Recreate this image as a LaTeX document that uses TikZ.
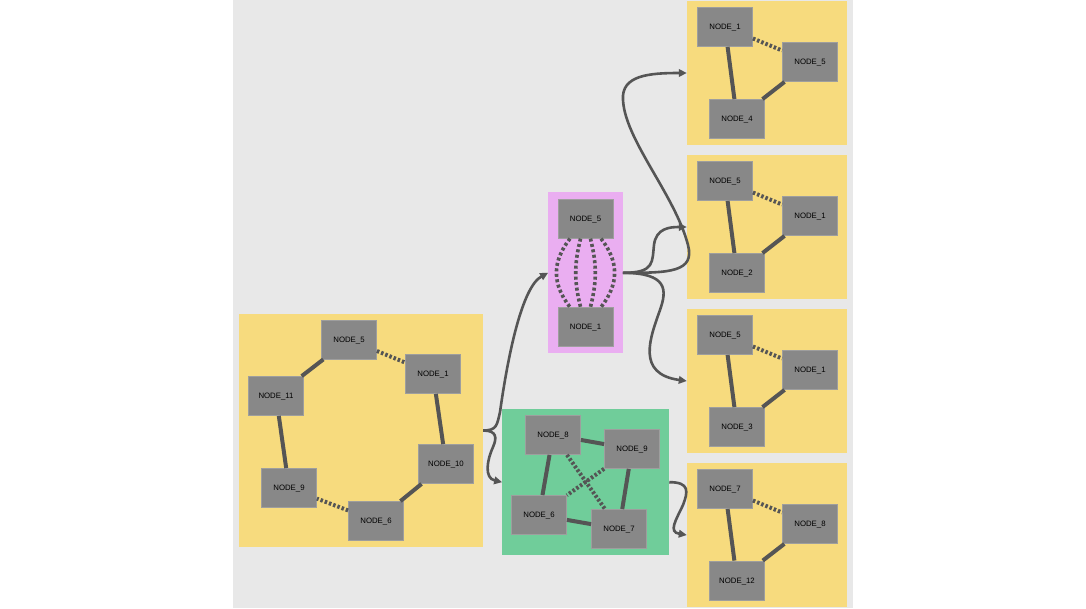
\documentclass[tikz,border=0pt]{standalone}
\usepackage{fontspec}
\setmainfont{Liberation Sans}
\usetikzlibrary{arrows.meta}
\definecolor{bgc}{HTML}{E8E8E8}
\definecolor{yel}{HTML}{F7DB7E}
\definecolor{pnk}{HTML}{EAAEF1}
\definecolor{grn}{HTML}{70CD9A}
\definecolor{nodegray}{HTML}{888888}
\definecolor{nodeborder}{HTML}{9E9E9E}
\definecolor{edgec}{HTML}{555555}
\begin{document}
\begin{tikzpicture}[x=1pt,y=-1pt,
  gnode/.style={fill=nodegray, draw=nodeborder, line width=0.8pt, minimum width=55pt, minimum height=39pt, inner sep=0pt, text depth=0pt, font=\fontsize{7.8}{9}\selectfont},
  clusterbox/.style={inner sep=0pt, draw=none},
  soled/.style={draw=edgec, line width=4pt},
  dashed/.style={draw=edgec, line width=4pt, dash pattern=on 2.5pt off 2pt},
  pdash/.style={draw=edgec, line width=3.6pt, dash pattern=on 3pt off 2.5pt},
  arr/.style={draw=edgec, line width=2.6pt, -{Triangle[length=8pt,width=7.5pt]}}]
\useasboundingbox (0,0) rectangle (1086,608);
\fill[bgc] (233,0) rectangle (853,608);

% clusters
\node[clusterbox, fill=yel, minimum width=244pt, minimum height=233pt] (L) at (361,430.5) {};
\node[clusterbox, fill=pnk, minimum width=74.4pt, minimum height=161pt] (P) at (585.5,272.8) {};
\node[clusterbox, fill=grn, minimum width=166.7pt, minimum height=145.7pt] (G) at (585.7,482.2) {};
\node[clusterbox, fill=yel, minimum width=160pt, minimum height=144pt] (R1) at (767,73) {};
\node[clusterbox, fill=yel, minimum width=160pt, minimum height=144pt] (R2) at (767,227) {};
\node[clusterbox, fill=yel, minimum width=160pt, minimum height=144pt] (R3) at (767,381) {};
\node[clusterbox, fill=yel, minimum width=160pt, minimum height=144pt] (R4) at (767,535) {};

% left cluster nodes
\node[gnode] (l5) at (349,339.5) {NODE\_5};
\node[gnode] (l1) at (433,374) {NODE\_1};
\node[gnode] (l11) at (276,396) {NODE\_11};
\node[gnode] (l10) at (446,464) {NODE\_10};
\node[gnode] (l9) at (289,488) {NODE\_9};
\node[gnode] (l6) at (376,521) {NODE\_6};
\draw[dashed] (l5) -- (l1);
\draw[soled] (l1) -- (l10);
\draw[soled] (l10) -- (l6);
\draw[dashed] (l6) -- (l9);
\draw[soled] (l9) -- (l11);
\draw[soled] (l11) -- (l5);

% pink cluster
\node[gnode] (p5) at (585.5,218.7) {NODE\_5};
\node[gnode] (p1) at (585.5,327) {NODE\_1};
\draw[pdash] (p5) to[bend left=38, looseness=1.1] (p1);
\draw[pdash] (p5) to[bend left=14] (p1);
\draw[pdash] (p5) to[bend right=14] (p1);
\draw[pdash] (p5) to[bend right=38, looseness=1.1] (p1);

% green cluster
\node[gnode] (g8) at (553,435) {NODE\_8};
\node[gnode] (g9) at (632,449) {NODE\_9};
\node[gnode] (g6) at (539,515) {NODE\_6};
\node[gnode] (g7) at (619,529) {NODE\_7};
\draw[soled] (g8) -- (g9);
\draw[soled] (g9) -- (g7);
\draw[soled] (g7) -- (g6);
\draw[soled] (g6) -- (g8);
\draw[dashed] (g8) -- (g7);
\draw[dashed] (g9) -- (g6);

% right cluster 1
\node[gnode] (a1) at (725,27) {NODE\_1};
\node[gnode] (a5) at (810,62) {NODE\_5};
\node[gnode] (a4) at (737,119) {NODE\_4};
\draw[dashed] (a1) -- (a5);
\draw[soled] (a1) -- (a4);
\draw[soled] (a4) -- (a5);

% right cluster 2
\node[gnode] (b5) at (725,181) {NODE\_5};
\node[gnode] (b1) at (810,216) {NODE\_1};
\node[gnode] (b2) at (737,273) {NODE\_2};
\draw[dashed] (b5) -- (b1);
\draw[soled] (b5) -- (b2);
\draw[soled] (b2) -- (b1);

% right cluster 3
\node[gnode] (c5) at (725,335) {NODE\_5};
\node[gnode] (c1) at (810,370) {NODE\_1};
\node[gnode] (c3) at (737,427) {NODE\_3};
\draw[dashed] (c5) -- (c1);
\draw[soled] (c5) -- (c3);
\draw[soled] (c3) -- (c1);

% right cluster 4
\node[gnode] (d7) at (725,489) {NODE\_7};
\node[gnode] (d8) at (810,524) {NODE\_8};
\node[gnode] (d12) at (737,580.5) {NODE\_12};
\draw[dashed] (d7) -- (d8);
\draw[soled] (d7) -- (d12);
\draw[soled] (d12) -- (d8);

% cluster connectors
\draw[arr] (L.east) .. controls (497,430.5) and (497,425) .. (500,412) .. controls (508,355) and (522,287) .. (P.west);
\draw[arr] (L.east) .. controls (497,430.5) and (497,438) .. (493,447) .. controls (487,460) and (484,478) .. (G.west);
\draw[arr] (P.east) .. controls (670,273) and (695,272) .. (688,245) .. controls (675,195) and (625,140) .. (623,100) .. controls (621,75) and (650,73) .. (R1.west);
\draw[arr] (P.east) .. controls (655,273) and (652,262) .. (654,245) .. controls (656,228) and (670,227) .. (R2.west);
\draw[arr] (P.east) .. controls (668,273) and (667,290) .. (660,310) .. controls (650,338) and (636,374) .. (R3.west);
\draw[arr] (G.east) .. controls (690,482) and (688,492) .. (683,505) .. controls (676,520) and (668,532) .. (R4.west);
\end{tikzpicture}
\end{document}
